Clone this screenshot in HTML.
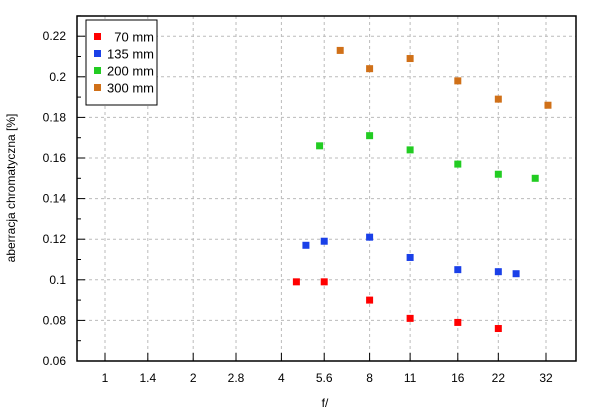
<!DOCTYPE html>
<html><head><meta charset="utf-8"><style>
body{margin:0;background:#fff;}
svg{display:block;font-family:"Liberation Sans",sans-serif;}
</style></head><body>
<svg id="chart" width="600" height="415" xmlns="http://www.w3.org/2000/svg">
<g id="grid"></g>
<g id="axes"></g>
<g id="marks"></g>
<rect x="77" y="16" width="499" height="345" fill="none" stroke="#000" stroke-width="1.5"/>
<text transform="translate(15,188) rotate(-90)" text-anchor="middle" font-size="12">aberracja chromatyczna [%]</text>
<text x="325" y="407" text-anchor="middle" font-size="12">f/</text>
<g id="legend">
<rect x="86" y="20" width="71" height="85" fill="#fff" stroke="#000" stroke-width="1"/>
</g>
</svg>
<script>
const xTicks=[1,1.4,2,2.8,4,5.6,8,11,16,22,32];
const xTickLabels=["1","1.4","2","2.8","4","5.6","8","11","16","22","32"];
const yTicks=[0.06,0.08,0.1,0.12,0.14,0.16,0.18,0.2,0.22];
const yTickLabels=["0.06","0.08","0.1","0.12","0.14","0.16","0.18","0.2","0.22"];
const seriesNames=["70 mm","135 mm","200 mm","300 mm"];
const seriesColors=["#ff0000","#1a40e8","#22cc22","#d07018"];
const f70=[4.5,5.6,8,11,16,22];
const v70=[0.099,0.099,0.090,0.081,0.079,0.076];
const f135=[4.85,5.6,8,11,16,22,25.3];
const v135=[0.117,0.119,0.121,0.111,0.105,0.104,0.103];
const f200=[5.4,8,11,16,22,29.4];
const v200=[0.166,0.171,0.164,0.157,0.152,0.150];
const f300=[6.35,8,11,16,22,32.5];
const v300=[0.213,0.204,0.209,0.198,0.189,0.186];

const NS="http://www.w3.org/2000/svg";
const L=77,R=576,T=16,B=361;
function xs(f){return 105+Math.log2(f)*88.2;}
function ys(v){return 361-(v-0.06)/0.02*40.6;}
function mk(tag,attrs,parent){const e=document.createElementNS(NS,tag);for(const k in attrs)e.setAttribute(k,attrs[k]);parent.appendChild(e);return e;}
const grid=document.getElementById('grid'),axes=document.getElementById('axes'),marks=document.getElementById('marks');
xTicks.forEach((t,i)=>{const x=xs(t);
 const g=mk('line',{x1:x,x2:x,y1:T,y2:B,stroke:'#bbb','stroke-dasharray':'3,3'},grid);
 
 
 const tk=mk('line',{x1:x,x2:x,y1:B,y2:B-8,stroke:'#000'},axes);
 
 
 const lb=mk('text',{x:x,y:382,'text-anchor':'middle','font-size':12},axes);
 lb.textContent=xTickLabels[i];
 
 
});
yTicks.forEach((t,i)=>{const y=ys(t);
 if(i>0){const g=mk('line',{x1:L,x2:R,y1:y,y2:y,stroke:'#bbb','stroke-dasharray':'3,3'},grid);
 
 }
 const tk=mk('line',{x1:L,x2:L+8,y1:y,y2:y,stroke:'#000'},axes);
 
 
 const mn=mk('line',{x1:L,x2:L+4,y1:ys(t+0.01),y2:ys(t+0.01),stroke:'#000'},axes);
 
 
 const lb=mk('text',{x:66,y:y+4,'text-anchor':'end','font-size':12},axes);
 lb.textContent=yTickLabels[i];
 
 
});
const allF=[f70,f135,f200,f300],allV=[v70,v135,v200,v300];
allF.forEach((fs,s)=>{fs.forEach((f,j)=>{
 const r=mk('rect',{x:xs(f)-3.5,y:ys(allV[s][j])-3.5,width:7,height:7,fill:seriesColors[s]},marks);
 
 
});});
const leg=document.getElementById('legend');
seriesNames.forEach((n,i)=>{const y=37+i*17;
 const r=mk('rect',{x:94,y:y-4,width:7,height:7,fill:seriesColors[i]},leg);
 
 
 const t=mk('text',{x:154,y:y+4.5,'text-anchor':'end','font-size':13},leg);
 t.textContent=n;
 
 
});
</script>
</body></html>
